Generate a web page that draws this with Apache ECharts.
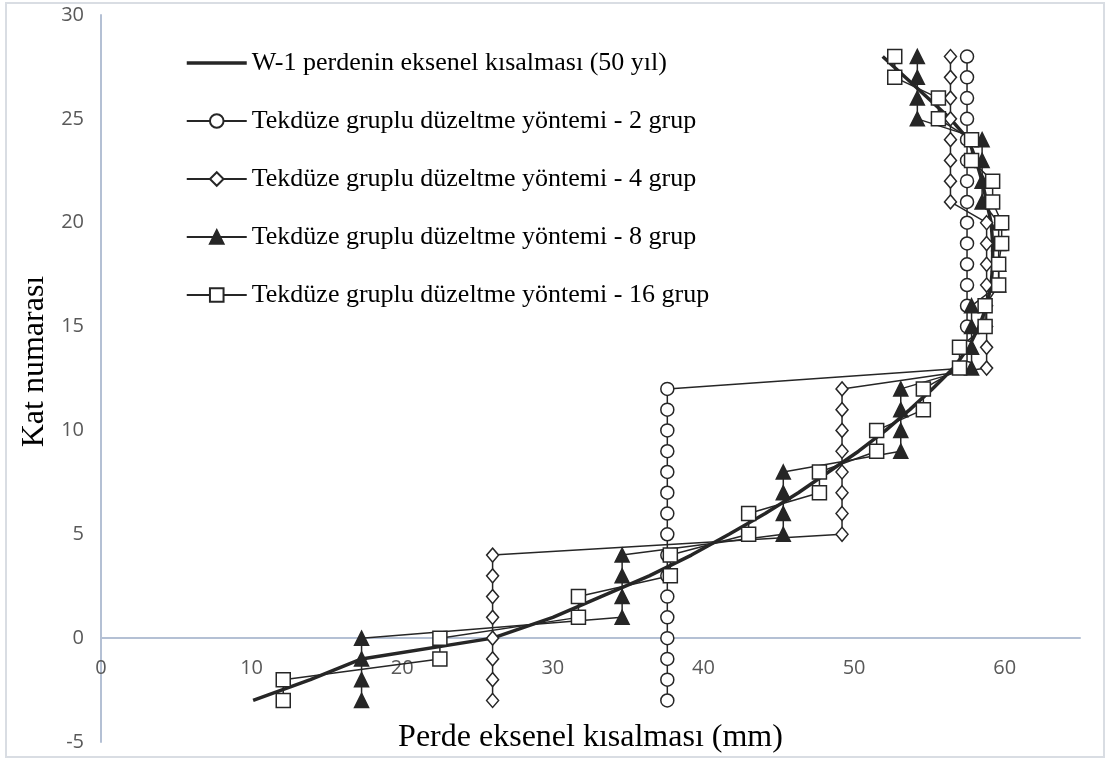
<!DOCTYPE html>
<html>
<head>
<meta charset="utf-8">
<script src="https://cdn.jsdelivr.net/npm/echarts@6/dist/echarts.min.js"></script>
<style>
html,body{margin:0;padding:0;background:#ffffff;}
#chart{width:1115px;height:760px;}
</style>
</head>
<body>
<div id="chart"></div>
<script>
// Floor numbers (Kat numarası)
const floors = [-3,-2,-1,0,1,2,3,4,5,6,7,8,9,10,11,12,13,14,15,16,17,18,19,20,21,22,23,24,25,26,27,28];

// W-1 perdenin eksenel kısalması (50 yıl) [mm]
const w1Values = [10.1,13.9,17.3,26.0,30.0,33.2,36.4,39.2,41.7,44.1,46.3,48.3,50.3,52.1,53.7,55.2,
                  56.6,57.6,58.3,58.8,59.1,59.2,59.2,59.1,58.8,58.5,58.1,57.6,56.4,54.9,53.4,51.9];

// Tekdüze gruplu düzeltme yöntemi - 2 grup
const grup2Values = [37.6,37.6,37.6,37.6,37.6,37.6,37.6,37.6,37.6,37.6,37.6,37.6,37.6,37.6,37.6,37.6,
                     57.5,57.5,57.5,57.5,57.5,57.5,57.5,57.5,57.5,57.5,57.5,57.5,57.5,57.5,57.5,57.5];

// Tekdüze gruplu düzeltme yöntemi - 4 grup
const grup4Values = [26.0,26.0,26.0,26.0,26.0,26.0,26.0,26.0,
                     49.2,49.2,49.2,49.2,49.2,49.2,49.2,49.2,
                     58.8,58.8,58.8,58.8,58.8,58.8,58.8,58.8,
                     56.4,56.4,56.4,56.4,56.4,56.4,56.4,56.4];

// Tekdüze gruplu düzeltme yöntemi - 8 grup
const grup8Values = [17.3,17.3,17.3,17.3, 34.6,34.6,34.6,34.6, 45.3,45.3,45.3,45.3, 53.1,53.1,53.1,53.1,
                     57.8,57.8,57.8,57.8, 59.6,59.6,59.6,59.6, 58.5,58.5,58.5,58.5, 54.2,54.2,54.2,54.2];

// Tekdüze gruplu düzeltme yöntemi - 16 grup
const grup16Values = [12.1,12.1, 22.5,22.5, 31.7,31.7, 37.8,37.8, 43.0,43.0, 47.7,47.7, 51.5,51.5, 54.6,54.6,
                      57.0,57.0, 58.7,58.7, 59.6,59.6, 59.8,59.8, 59.2,59.2, 57.8,57.8, 55.6,55.6, 52.7,52.7];

const seriesNames = [
  'W-1 perdenin eksenel kısalması (50 yıl)',
  'Tekdüze gruplu düzeltme yöntemi - 2 grup',
  'Tekdüze gruplu düzeltme yöntemi - 4 grup',
  'Tekdüze gruplu düzeltme yöntemi - 8 grup',
  'Tekdüze gruplu düzeltme yöntemi - 16 grup'
];

const xAxisTitle = 'Perde eksenel kısalması (mm)';
const yAxisTitle = 'Kat numarası';

const ink = '#262626';
const pairs = vals => floors.map((f, i) => [vals[i], f]);

function markerSeries(name, vals, symbol, size, filled) {
  return {
    name: name,
    type: 'line',
    data: pairs(vals),
    symbol: symbol,
    symbolSize: size,
    showAllSymbol: true,
    lineStyle: {color: ink, width: 1.5},
    itemStyle: {color: filled ? ink : '#ffffff', borderColor: ink, borderWidth: 1.5},
    emphasis: {disabled: true}
  };
}

const chart = echarts.init(document.getElementById('chart'), null, {renderer: 'canvas'});
chart.setOption({
  animation: false,
  backgroundColor: '#ffffff',
  graphic: [{
    type: 'rect', z: -10,
    shape: {x: 6, y: 3, width: 1098, height: 754},
    style: {fill: 'none', stroke: '#D9DDE3', lineWidth: 2}
  }],
  grid: {left: 101, right: 35, top: 15, bottom: 18, containLabel: false, outerBoundsMode: 'none'},
  legend: {
    orient: 'vertical',
    left: 180,
    top: 45,
    itemWidth: 60,
    itemHeight: 17,
    itemGap: 32,
    data: [
      {name: seriesNames[0], itemStyle: {opacity: 0}, lineStyle: {width: 3.5, color: ink}},
      seriesNames[1], seriesNames[2], seriesNames[3], seriesNames[4]
    ],
    textStyle: {fontFamily: 'Liberation Serif', fontSize: 26, lineHeight: 26, color: '#000000'}
  },
  xAxis: {
    type: 'value',
    min: 0, max: 65, interval: 10,
    offset: -104,
    axisLine: {show: true, onZero: false, lineStyle: {color: '#B4C0D4', width: 2}},
    axisTick: {show: false},
    splitLine: {show: false},
    axisLabel: {
      margin: 20, fontSize: 20, color: '#595959', fontFamily: 'Open Sans',
      formatter: v => (v % 10 === 0 ? String(v) : '')
    },
    name: xAxisTitle,
    nameLocation: 'middle',
    nameGap: 84,
    nameTextStyle: {fontFamily: 'Liberation Serif', fontSize: 32, color: '#000000'}
  },
  yAxis: {
    type: 'value',
    min: -5, max: 30, interval: 5,
    axisLine: {show: true, onZero: false, lineStyle: {color: '#B4C0D4', width: 2}},
    axisTick: {show: false},
    splitLine: {show: false},
    axisLabel: {margin: 17, fontSize: 20, color: '#595959', fontFamily: 'Open Sans'},
    name: yAxisTitle,
    nameLocation: 'middle',
    nameGap: 50,
    nameTextStyle: {fontFamily: 'Liberation Serif', fontSize: 32, color: '#000000', padding: [0, 0, 0, 34]}
  },
  series: [
    {
      name: seriesNames[0],
      type: 'line',
      data: pairs(w1Values),
      symbol: 'none',
      lineStyle: {color: ink, width: 3.5},
      itemStyle: {color: ink},
      emphasis: {disabled: true}
    },
    markerSeries(seriesNames[1], grup2Values, 'circle', 13, false),
    markerSeries(seriesNames[2], grup4Values, 'diamond', [12, 14], false),
    markerSeries(seriesNames[3], grup8Values, 'triangle', [14, 14], true),
    markerSeries(seriesNames[4], grup16Values, 'rect', 14, false)
  ]
});
</script>
</body>
</html>
